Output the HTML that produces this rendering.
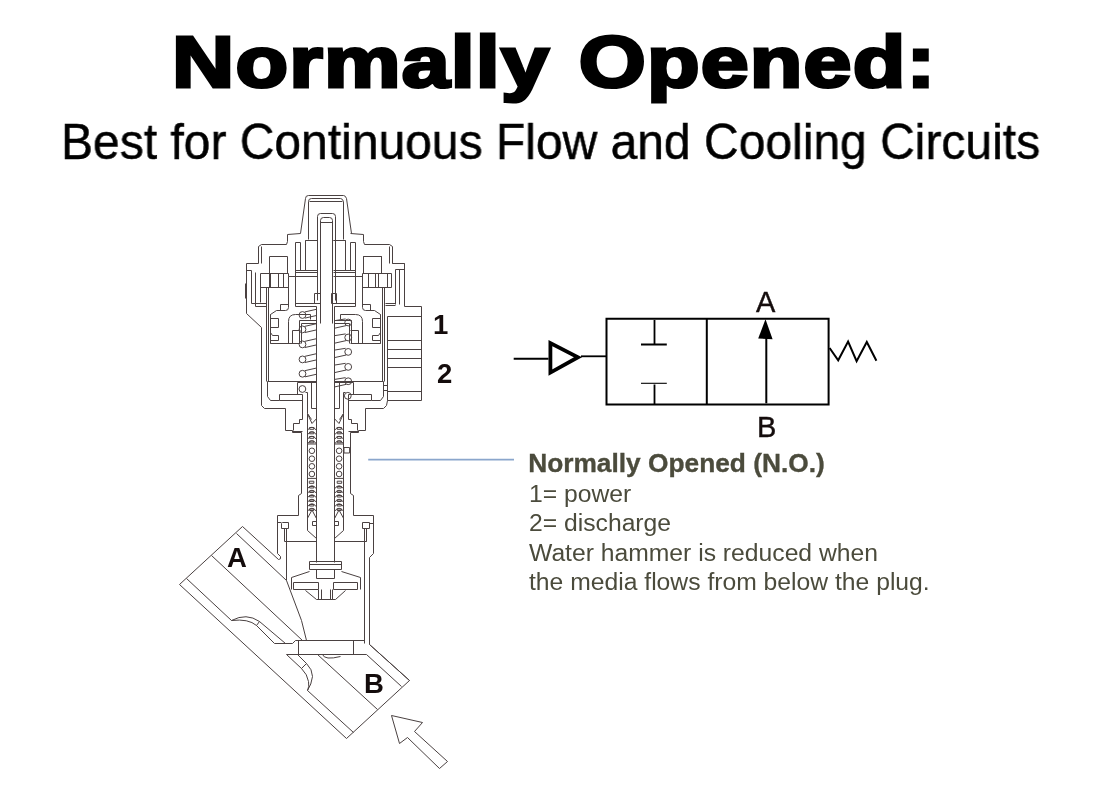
<!DOCTYPE html>
<html><head><meta charset="utf-8"><style>
html,body{margin:0;padding:0;background:#fff;width:1100px;height:800px;overflow:hidden;position:relative}
.t{position:absolute;white-space:nowrap;font-family:"Liberation Sans",sans-serif;line-height:1;will-change:transform}
.d{color:#4b4b3c;font-size:24.7px;left:528.5px;line-height:29.6px}
.lb{font-weight:bold;font-size:27.5px;color:#140c0c}
.sl{font-size:29px;color:#140c0c;-webkit-text-stroke:0.4px #140c0c}
</style></head><body>
<svg width="1100" height="800" viewBox="0 0 1100 800" style="position:absolute;left:0;top:0">
<g fill="none" stroke="#4a4141" stroke-width="1">
<path d="M300.5,233.5 L305.5,198.5 Q305.5,195.5 308.5,195.5 L343.5,195.5 Q345.5,195.5 346.5,198.5 L351.5,233.5"/>
<path d="M308.5,239.5 L308.5,201.5 Q308.5,198.5 311.5,198.5 L340.5,198.5 Q342.5,198.5 343.5,201.5 L343.5,239.5"/>
<path d="M309.5,201.5 L342.5,201.5"/>
<path d="M317.5,300.5 L317.5,216.5 Q317.5,213.5 320.5,213.5 L332.5,213.5 Q335.5,213.5 335.5,216.5 L335.5,300.5"/>
<path d="M320.5,323.5 L320.5,220.5 Q320.5,217.5 323.5,217.5 L329.5,217.5 Q332.5,217.5 332.5,220.5 L332.5,323.5"/>
<path d="M320.5,222.5 L332.5,222.5"/>
<path d="M316.5,306.5 L316.5,562.5 M334.5,306.5 L334.5,562.5"/>
<path d="M314.5,293.5 L320.5,293.5 L320.5,303.5 L314.5,303.5 Z M331.5,293.5 L336.5,293.5 L336.5,303.5 L331.5,303.5 Z"/>
<path d="M246.5,263.5 L246.5,313.5 L261.5,327.5 L261.5,405.5 L264.5,408.5 L285.5,408.5 L285.5,430.5 L292.5,430.5 L292.5,432.5 L301.5,432.5 L301.5,493.5 L298.5,495.5 L298.5,515.5 L277.5,515.5 L277.5,553.5 L280.5,556.5 Q281.5,559.5 278.5,559.5 L242.5,526.5"/>
<path d="M245.5,283.5 L245.5,298.5"/>
<path d="M260.5,302.5 L260.5,273.5 L288.5,273.5 L288.5,276.5"/>
<path d="M260.5,287.5 L288.5,287.5 M269.5,273.5 L269.5,287.5 M270.5,273.5 L270.5,287.5 M278.5,273.5 L278.5,287.5 M283.5,273.5 L283.5,287.5"/>
<path d="M246.5,270.5 L251.5,270.5 L251.5,303.5 L266.5,303.5"/>
<path d="M255.5,272.5 L255.5,306.5 L266.5,306.5"/>
<path d="M281.5,528.5 L281.5,523.5 L282.5,522.5 L288.5,522.5 L288.5,528.5 L281.5,528.5"/>
<path d="M277.5,522.5 L281.5,522.5 M284.5,528.5 L284.5,541.5 M286.5,528.5 L286.5,580.5"/>
<path d="M392.5,263.5 L404.5,263.5 L404.5,306.5 L421.5,306.5 L421.5,400.5 L387.5,400.5 L386.5,405.5 L383.5,408.5 L365.5,408.5 L365.5,430.5 L358.5,430.5 L358.5,432.5 L350.5,432.5 L350.5,493.5 L353.5,495.5 L353.5,515.5 L373.5,515.5 L373.5,553.5 L369.5,557.5 L369.5,644.5 L409.5,680.5"/>
<path d="M387.5,316.5 L387.5,400.5 M387.5,316.5 L421.5,316.5 M387.5,340.5 L421.5,340.5 M387.5,349.5 L421.5,349.5 M387.5,358.5 L421.5,358.5 M387.5,367.5 L421.5,367.5 M387.5,391.5 L421.5,391.5"/>
<path d="M395.5,304.5 L395.5,269.5 L404.5,269.5 M399.5,304.5 L399.5,269.5 M385.5,303.5 L395.5,303.5 M385.5,305.5 L395.5,305.5"/>
<path d="M363.5,273.5 L363.5,256.5 L381.5,256.5 L381.5,273.5"/>
<path d="M362.5,302.5 L362.5,273.5 L391.5,273.5 L391.5,287.5"/>
<path d="M362.5,287.5 L391.5,287.5 M368.5,273.5 L368.5,287.5 M375.5,273.5 L375.5,287.5 M378.5,273.5 L378.5,287.5 M387.5,273.5 L387.5,287.5"/>
<path d="M383.5,385.5 L387.5,385.5 L387.5,390.5 L383.5,390.5"/>
<path d="M362.5,522.5 L369.5,522.5 L369.5,528.5 L362.5,528.5 Z"/>
<path d="M369.5,523.5 L373.5,523.5 M364.5,528.5 L364.5,643.5 M366.5,528.5 L366.5,541.5 L335.5,541.5"/>
<path d="M242.5,526.5 L179.5,584.5 L346.5,738.5 L409.5,680.5 L369.5,644.5"/>
<path d="M236.5,533.5 L286.5,580.5 L301.5,620.5 L306.5,640.5"/>
<path d="M211.5,555.5 L302.5,640.5"/>
<path d="M186.5,578.5 L231.5,620.5"/>
<path d="M231.5,620.5 Q246.5,612.5 259.5,621.5 M231.5,620.5 Q248.5,618.5 256.5,625.5 M259.5,621.5 L256.5,625.5 M259.5,621.5 L285.5,643.5 M256.5,625.5 L274.5,643.5 L292.5,643.5 L295.5,640.5 L364.5,640.5"/>
<path d="M286.5,654.5 L366.5,654.5 M298.5,640.5 L298.5,654.5 M353.5,640.5 L353.5,654.5"/>
<path d="M286.5,654.5 L301.5,668.5 Q307.5,674.5 308.5,681.5 Q309.5,686.5 307.5,690.5 M297.5,654.5 L306.5,663.5 Q312.5,669.5 312.5,676.5 Q311.5,684.5 307.5,690.5 M301.5,668.5 L306.5,663.5"/>
<path d="M307.5,690.5 L353.5,732.5"/>
<path d="M317.5,654.5 L377.5,709.5 M366.5,654.5 L401.5,686.5"/>
<path d="M322.5,654.5 Q324.5,660.5 340.5,656.5"/>
<path d="M309.5,561.5 L341.5,561.5 L341.5,569.5 L309.5,569.5 Z"/>
<path d="M309.5,564.5 L341.5,564.5"/>
<path d="M316.5,569.5 L316.5,578.5 L334.5,578.5 L334.5,569.5"/>
<path d="M309.5,571.5 L291.5,577.5 L291.5,589.5"/>
<path d="M341.5,571.5 L360.5,577.5 L360.5,589.5"/>
<path d="M293.5,582.5 L318.5,582.5 L318.5,589.5 L293.5,589.5 Z"/>
<path d="M333.5,582.5 L357.5,582.5 L357.5,589.5 L333.5,589.5 Z"/>
<path d="M305.5,590.5 L316.5,599.5 L335.5,599.5 L345.5,590.5"/>
<path d="M318.5,589.5 L318.5,599.5 M321.5,589.5 L321.5,599.5 M330.5,589.5 L330.5,599.5 M332.5,589.5 L332.5,599.5"/>
<path d="M391.5,715.5 L422.5,722.5 L414.5,731.5 L447.5,761.5 L439.5,768.5 L407.5,737.5 L399.5,743.5 Z"/>
<path d="M300.5,233.5 L287.5,234.5 L287.5,241.5 L286.5,244.5 L261.5,244.5 L258.5,246.5 L258.5,263.5 L246.5,263.5"/>
<path d="M261.5,246.5 L261.5,263.5"/>
<path d="M305.5,270.5 L305.5,240.5 L317.5,240.5"/>
<path d="M305.5,240.5 L317.5,240.5"/>
<path d="M295.5,306.5 L295.5,242.5 L300.5,242.5 L300.5,270.5"/>
<path d="M295.5,270.5 L317.5,270.5 M295.5,272.5 L317.5,272.5 M288.5,276.5 L317.5,276.5"/>
<path d="M269.5,273.5 L269.5,256.5 L287.5,256.5 L287.5,273.5"/>
<path d="M266.5,287.5 L266.5,381.5 M268.5,287.5 L268.5,381.5"/>
<path d="M295.5,303.5 L316.5,303.5 M295.5,306.5 L316.5,306.5"/>
<path d="M288.5,276.5 L288.5,307.5 Q288.5,310.5 285.5,310.5 L276.5,310.5 M280.5,304.5 L288.5,304.5 M280.5,304.5 L280.5,310.5"/>
<path d="M276.5,310.5 L270.5,314.5 L270.5,318.5 L278.5,318.5 L278.5,327.5 L270.5,327.5 L270.5,332.5 L272.5,335.5 L278.5,335.5 L278.5,340.5 L270.5,340.5 L270.5,343.5 L300.5,343.5"/>
<path d="M270.5,314.5 L270.5,343.5"/>
<path d="M288.5,343.5 L288.5,321.5 Q288.5,314.5 295.5,314.5 L310.5,314.5 L310.5,319.5"/>
<path d="M292.5,343.5 L292.5,330.5 L300.5,330.5"/>
<path d="M299.5,320.5 L299.5,343.5 M301.5,323.5 L301.5,343.5 M299.5,320.5 L316.5,320.5 M301.5,323.5 L316.5,323.5"/>
<path d="M267.5,381.5 L316.5,381.5"/>
<path d="M316.5,382.5 L297.5,382.5 L297.5,394.5"/>
<path d="M305.5,392.5 L307.5,392.5 L307.5,413.5 L311.5,419.5"/>
<path d="M311.5,382.5 L311.5,408.5 L316.5,408.5"/>
<path d="M279.5,394.5 L302.5,394.5 M279.5,400.5 L302.5,400.5 M279.5,394.5 L279.5,400.5"/>
<path d="M267.5,381.5 L267.5,396.5 L270.5,400.5 L279.5,400.5"/>
<path d="M302.5,394.5 L302.5,419.5 L299.5,419.5 L299.5,423.5 L293.5,423.5 L293.5,430.5"/>
<path d="M292.5,431.5 L302.5,431.5"/>
<path d="M307.5,413.5 L307.5,530.5 L316.5,538.5"/>
<path d="M312.5,521.5 L316.5,521.5 L316.5,525.5 L312.5,525.5 Z"/>
<path d="M284.5,541.5 L316.5,541.5"/>
<g transform="translate(651.0,0) scale(-1,1)"><path d="M300.5,233.5 L287.5,234.5 L287.5,241.5 L286.5,244.5 L261.5,244.5 L258.5,246.5 L258.5,263.5 L246.5,263.5"/>
<path d="M261.5,246.5 L261.5,263.5"/>
<path d="M305.5,270.5 L305.5,240.5 L317.5,240.5"/>
<path d="M305.5,240.5 L317.5,240.5"/>
<path d="M295.5,306.5 L295.5,242.5 L300.5,242.5 L300.5,270.5"/>
<path d="M295.5,270.5 L317.5,270.5 M295.5,272.5 L317.5,272.5 M288.5,276.5 L317.5,276.5"/>
<path d="M269.5,273.5 L269.5,256.5 L287.5,256.5 L287.5,273.5"/>
<path d="M266.5,287.5 L266.5,381.5 M268.5,287.5 L268.5,381.5"/>
<path d="M295.5,303.5 L316.5,303.5 M295.5,306.5 L316.5,306.5"/>
<path d="M288.5,276.5 L288.5,307.5 Q288.5,310.5 285.5,310.5 L276.5,310.5 M280.5,304.5 L288.5,304.5 M280.5,304.5 L280.5,310.5"/>
<path d="M276.5,310.5 L270.5,314.5 L270.5,318.5 L278.5,318.5 L278.5,327.5 L270.5,327.5 L270.5,332.5 L272.5,335.5 L278.5,335.5 L278.5,340.5 L270.5,340.5 L270.5,343.5 L300.5,343.5"/>
<path d="M270.5,314.5 L270.5,343.5"/>
<path d="M288.5,343.5 L288.5,321.5 Q288.5,314.5 295.5,314.5 L310.5,314.5 L310.5,319.5"/>
<path d="M292.5,343.5 L292.5,330.5 L300.5,330.5"/>
<path d="M299.5,320.5 L299.5,343.5 M301.5,323.5 L301.5,343.5 M299.5,320.5 L316.5,320.5 M301.5,323.5 L316.5,323.5"/>
<path d="M267.5,381.5 L316.5,381.5"/>
<path d="M316.5,382.5 L297.5,382.5 L297.5,394.5"/>
<path d="M305.5,392.5 L307.5,392.5 L307.5,413.5 L311.5,419.5"/>
<path d="M311.5,382.5 L311.5,408.5 L316.5,408.5"/>
<path d="M279.5,394.5 L302.5,394.5 M279.5,400.5 L302.5,400.5 M279.5,394.5 L279.5,400.5"/>
<path d="M267.5,381.5 L267.5,396.5 L270.5,400.5 L279.5,400.5"/>
<path d="M302.5,394.5 L302.5,419.5 L299.5,419.5 L299.5,423.5 L293.5,423.5 L293.5,430.5"/>
<path d="M292.5,431.5 L302.5,431.5"/>
<path d="M307.5,413.5 L307.5,530.5 L316.5,538.5"/>
<path d="M312.5,521.5 L316.5,521.5 L316.5,525.5 L312.5,525.5 Z"/>
<path d="M284.5,541.5 L316.5,541.5"/></g>
<circle cx="302.5" cy="315" r="3.4"/><path d="M305,311.90 L316,309.40 M305,318.10 L316,315.60"/><circle cx="302.5" cy="329.4" r="3.4"/><path d="M305,326.30 L316,323.80 M305,332.50 L316,330.00"/><circle cx="302.5" cy="344.4" r="3.4"/><path d="M305,341.30 L316,338.80 M305,347.50 L316,345.00"/><circle cx="302.5" cy="359.4" r="3.4"/><path d="M305,356.30 L316,353.80 M305,362.50 L316,360.00"/><circle cx="302.5" cy="373.75" r="3.4"/><path d="M305,370.65 L316,368.15 M305,376.85 L316,374.35"/><circle cx="348.2" cy="322.5" r="3.4"/><path d="M345.6,318.90 L335,320.60 M346.2,325.60 L335,328.10"/><circle cx="348.2" cy="337.5" r="3.4"/><path d="M345.6,333.90 L335,335.60 M346.2,340.60 L335,343.10"/><circle cx="348.2" cy="351.9" r="3.4"/><path d="M345.6,348.30 L335,350.00 M346.2,355.00 L335,357.50"/><circle cx="348.2" cy="366.9" r="3.4"/><path d="M345.6,363.30 L335,365.00 M346.2,370.00 L335,372.50"/><circle cx="348.2" cy="381.25" r="3.4"/><path d="M345.6,377.65 L335,379.35 M346.2,384.35 L335,386.85"/><path d="M307.6,414 L312,423.5 L316.2,419"/>
<path d="M307.6,430.0 Q312,424.5 316.2,430.0"/>
<path d="M309.6,427.5 L313.8,427.5 L313.8,429.3 L309.6,429.3 Z"/>
<path d="M307.6,434.5 Q312,429.0 316.2,434.5"/>
<path d="M309.6,432.0 L313.8,432.0 L313.8,433.8 L309.6,433.8 Z"/>
<path d="M307.6,439.0 Q312,433.5 316.2,439.0"/>
<path d="M309.6,436.5 L313.8,436.5 L313.8,438.3 L309.6,438.3 Z"/>
<path d="M307.6,443.5 Q312,438.0 316.2,443.5"/>
<path d="M309.6,441.0 L313.8,441.0 L313.8,442.8 L309.6,442.8 Z"/>
<path d="M307.6,444 L316.2,444 M307.6,478.4 L316.2,478.4"/>
<path d="M309.3,481.2 L313.8,481.2 L313.8,483.3 L309.3,483.3 Z"/>
<path d="M307.6,488.5 Q312,483.0 316.2,488.5"/>
<path d="M309.6,486.5 L313.8,486.5 L313.8,488.0 L309.6,488.0 Z"/>
<path d="M307.6,493.0 Q312,487.5 316.2,493.0"/>
<path d="M309.6,491.0 L313.8,491.0 L313.8,492.5 L309.6,492.5 Z"/>
<path d="M307.6,497.5 Q312,492.0 316.2,497.5"/>
<path d="M309.6,495.5 L313.8,495.5 L313.8,497.0 L309.6,497.0 Z"/>
<path d="M307.6,502.0 Q312,496.5 316.2,502.0"/>
<path d="M309.6,500.0 L313.8,500.0 L313.8,501.5 L309.6,501.5 Z"/>
<path d="M307.6,506.5 Q312,501.0 316.2,506.5"/>
<path d="M309.6,504.5 L313.8,504.5 L313.8,506.0 L309.6,506.0 Z"/>
<path d="M307.6,511.0 Q312,505.5 316.2,511.0"/>
<path d="M309.6,509.0 L313.8,509.0 L313.8,510.5 L309.6,510.5 Z"/>
<path d="M307.6,518 L312,510 L316.2,518"/><circle cx="311.9" cy="450.8" r="2.8"/><circle cx="311.9" cy="458.7" r="2.8"/><circle cx="311.9" cy="466.3" r="2.8"/><circle cx="311.9" cy="474" r="2.8"/><g transform="translate(651.0,0) scale(-1,1)"><path d="M307.6,414 L312,423.5 L316.2,419"/>
<path d="M307.6,430.0 Q312,424.5 316.2,430.0"/>
<path d="M309.6,427.5 L313.8,427.5 L313.8,429.3 L309.6,429.3 Z"/>
<path d="M307.6,434.5 Q312,429.0 316.2,434.5"/>
<path d="M309.6,432.0 L313.8,432.0 L313.8,433.8 L309.6,433.8 Z"/>
<path d="M307.6,439.0 Q312,433.5 316.2,439.0"/>
<path d="M309.6,436.5 L313.8,436.5 L313.8,438.3 L309.6,438.3 Z"/>
<path d="M307.6,443.5 Q312,438.0 316.2,443.5"/>
<path d="M309.6,441.0 L313.8,441.0 L313.8,442.8 L309.6,442.8 Z"/>
<path d="M307.6,444 L316.2,444 M307.6,478.4 L316.2,478.4"/>
<path d="M309.3,481.2 L313.8,481.2 L313.8,483.3 L309.3,483.3 Z"/>
<path d="M307.6,488.5 Q312,483.0 316.2,488.5"/>
<path d="M309.6,486.5 L313.8,486.5 L313.8,488.0 L309.6,488.0 Z"/>
<path d="M307.6,493.0 Q312,487.5 316.2,493.0"/>
<path d="M309.6,491.0 L313.8,491.0 L313.8,492.5 L309.6,492.5 Z"/>
<path d="M307.6,497.5 Q312,492.0 316.2,497.5"/>
<path d="M309.6,495.5 L313.8,495.5 L313.8,497.0 L309.6,497.0 Z"/>
<path d="M307.6,502.0 Q312,496.5 316.2,502.0"/>
<path d="M309.6,500.0 L313.8,500.0 L313.8,501.5 L309.6,501.5 Z"/>
<path d="M307.6,506.5 Q312,501.0 316.2,506.5"/>
<path d="M309.6,504.5 L313.8,504.5 L313.8,506.0 L309.6,506.0 Z"/>
<path d="M307.6,511.0 Q312,505.5 316.2,511.0"/>
<path d="M309.6,509.0 L313.8,509.0 L313.8,510.5 L309.6,510.5 Z"/>
<path d="M307.6,518 L312,510 L316.2,518"/><circle cx="311.9" cy="450.8" r="2.8"/><circle cx="311.9" cy="458.7" r="2.8"/><circle cx="311.9" cy="466.3" r="2.8"/><circle cx="311.9" cy="474" r="2.8"/></g><path d="M344,447.5 L349.6,447.5 L349.6,453 L344,453 Z"/><circle cx="302.4" cy="389" r="3.4"/><circle cx="347.8" cy="395.8" r="3.4"/>
</g>
<path d="M368.2,459.6 L514,459.6" stroke="#8aa6cc" stroke-width="1.6"/>
<g fill="none" stroke="#000">
<path d="M513.7,358.7 L548.5,358.7" stroke-width="2.1"/>
<path d="M550.4,343 L550.4,372.6 L578,357.2 Z" stroke-width="3.8" stroke-linejoin="miter"/>
<path d="M581,356.3 L606,356.3" stroke-width="1.8"/>
<path d="M606.5,318.8 L828.6,318.8 L828.6,404.5 L606.5,404.5 Z" stroke-width="2"/>
<path d="M706.8,318.8 L706.8,404.5" stroke-width="2"/>
<path d="M654.5,320 L654.5,345 M641,344.5 L666.8,344.5" stroke-width="1.8"/>
<path d="M641,383.3 L666.8,383.3" stroke-width="1.1"/>
<path d="M654.5,384.5 L654.5,404.5" stroke-width="1.8"/>
<path d="M766.3,336 L766.3,403.3" stroke-width="2"/>
<path d="M829.6,348 L838.2,360.3 L848.1,341.6 L856.6,361.2 L866.8,342 L876.4,360.8" stroke-width="2"/>
</g>
<path d="M765.5,319.3 L758.2,338.6 L772.6,339.2 Z" fill="#000"/>
</svg>
<div class="t" id="title" style="left:172px;top:25px;font-size:73px;font-weight:bold;letter-spacing:1px;word-spacing:3px;-webkit-text-stroke:3.2px #000;color:#000;transform:scaleX(1.18);transform-origin:0 0">Normally Opened:</div>
<div class="t" id="sub" style="left:61px;top:117px;font-size:50px;color:#000;-webkit-text-stroke:0.5px #000;transform:scaleX(0.96);transform-origin:0 0">Best for Continuous Flow and Cooling Circuits</div>
<div class="t d" style="top:449px;"><b style="font-size:26.3px;-webkit-text-stroke:0.35px #4b4b3c;margin-left:-0.8px">Normally Opened (N.O.)</b><br>1= power<br>2= discharge<br>Water hammer is reduced when<br>the media flows from below the plug.</div>
<div class="t lb" style="left:432.5px;top:310.5px">1</div>
<div class="t lb" style="left:436.5px;top:360px">2</div>
<div class="t lb" style="left:227px;top:544px">A</div>
<div class="t lb" style="left:364px;top:670px">B</div>
<div class="t sl" style="left:756px;top:287.5px">A</div>
<div class="t sl" style="left:757px;top:413px">B</div>
</body></html>
